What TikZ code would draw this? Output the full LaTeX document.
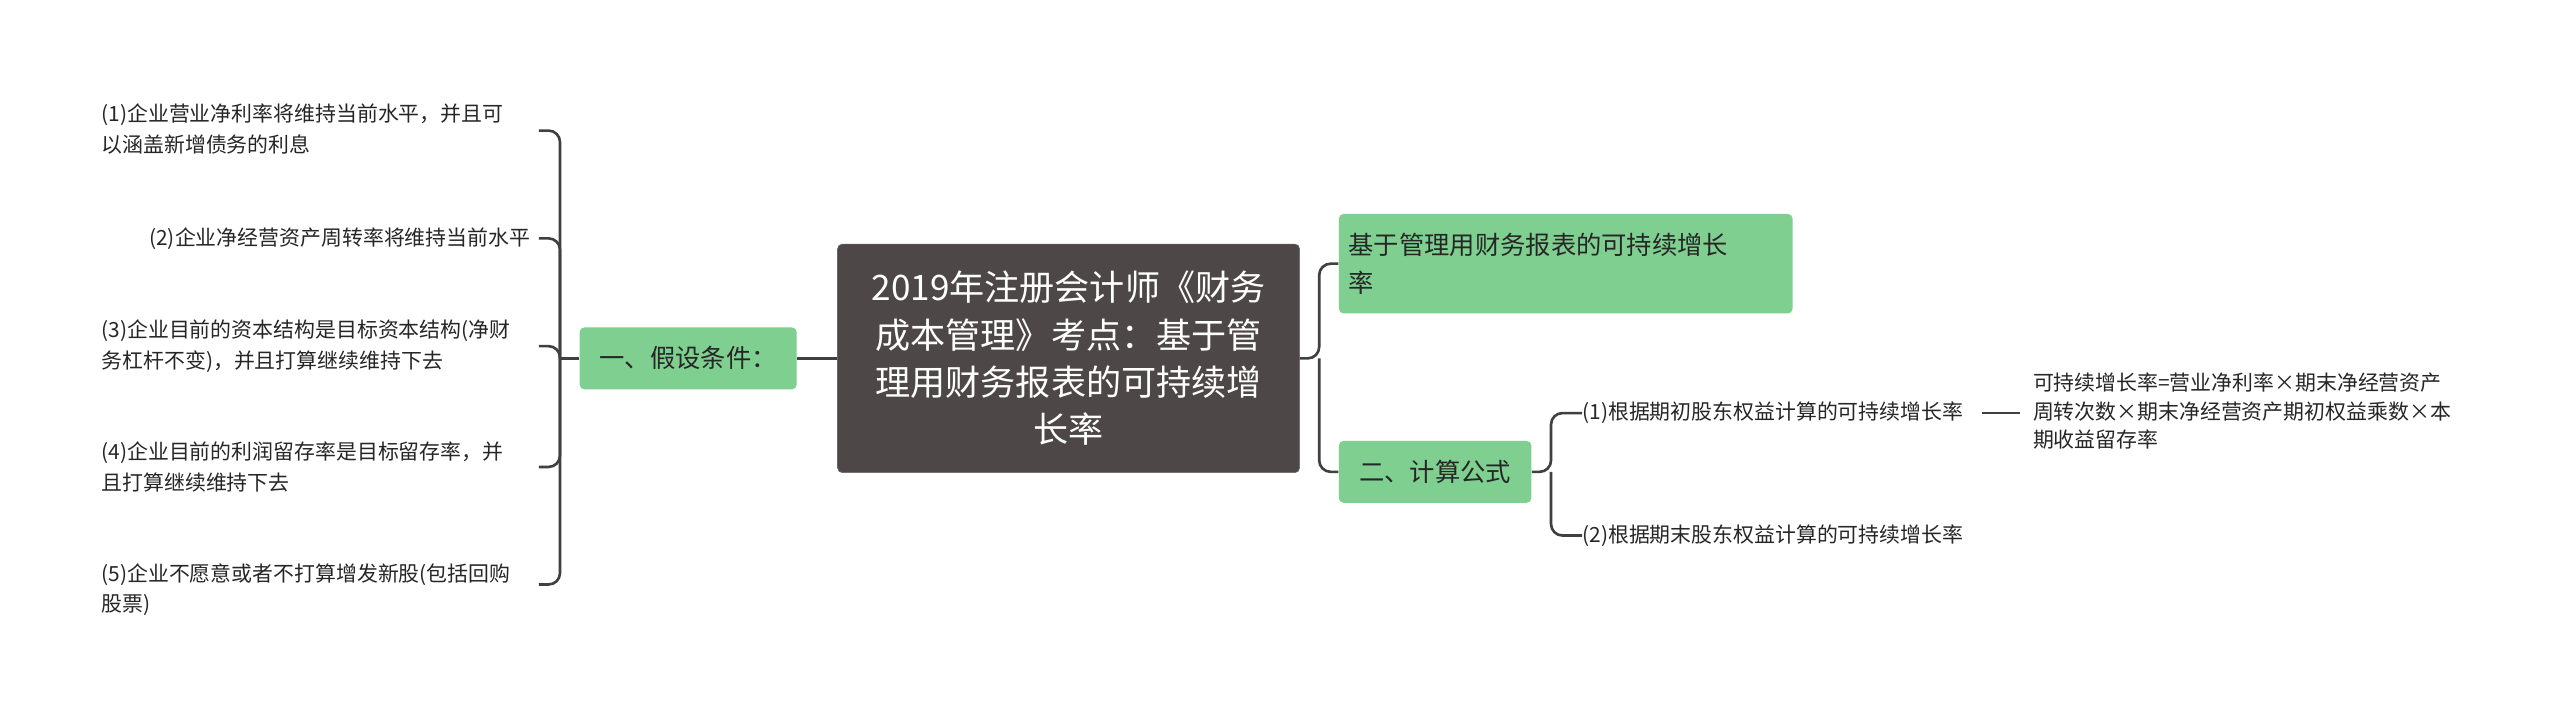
\documentclass[tikz,border=0pt]{standalone}
\usepackage{fontspec}
\setmainfont{Noto Sans CJK SC}
\begin{document}
\begin{tikzpicture}[x=1pt,y=-1pt,
  conn/.style={draw=black!75,line width=1.6pt,rounded corners=7pt},
  leaf/.style={font=\fontsize{12.8}{18.5}\selectfont,text=black!85,align=left,inner sep=0pt}]
\definecolor{gn}{HTML}{7FCF90}
\definecolor{dk}{HTML}{4E4747}
\path[fill=white] (0,0) rectangle (1568,440);
\useasboundingbox (0,0) rectangle (1568,440);
% center
\node[fill=dk,draw=black!60,rounded corners=3pt,text=white,font=\fontsize{21.5}{29}\selectfont,align=center,minimum width=283pt,minimum height=140pt,inner sep=0pt] (c) at (654.5,219.5) {2019年注册会计师《财务\\成本管理》考点：基于管\\理用财务报表的可持续增\\长率};
% left main
\node[fill=gn,rounded corners=3pt,font=\fontsize{15.5}{20}\selectfont,text=black!85,minimum width=133pt,minimum height=38pt,inner sep=0pt] (l) at (421.5,219.5) {一、假设条件：};
% right mains
\node[fill=gn,rounded corners=3pt,font=\fontsize{15.5}{23}\selectfont,text=black!85,align=left,minimum width=278pt,minimum height=61pt,inner sep=0pt,text width=266pt] (r1) at (959,161.5) {基于管理用财务报表的可持续增长\\率};
\node[fill=gn,rounded corners=3pt,font=\fontsize{15.5}{20}\selectfont,text=black!85,minimum width=118pt,minimum height=38pt,inner sep=0pt] (r2) at (879,289) {二、计算公式};
% left leaves
\node[leaf,anchor=west] (a1) at (62,79) {(1)企业营业净利率将维持当前水平，并且可\\以涵盖新增债务的利息};
\node[leaf,anchor=east] (a2) at (325,146) {(2)企业净经营资产周转率将维持当前水平};
\node[leaf,anchor=west] (a3) at (62,212) {(3)企业目前的资本结构是目标资本结构(净财\\务杠杆不变)，并且打算继续维持下去};
\node[leaf,anchor=west] (a4) at (62,286) {(4)企业目前的利润留存率是目标留存率，并\\且打算继续维持下去};
\node[leaf,anchor=west] (a5) at (62,361) {(5)企业不愿意或者不打算增发新股(包括回购\\股票)};
\coordinate (e1) at (330,80);
\coordinate (e2) at (330,146);
\coordinate (e3) at (330,212);
\coordinate (e4) at (330,286);
\coordinate (e5) at (330,358);
\coordinate (ls) at (343,219.5);
\draw[conn] (c.west) -- (l.east);
\draw[conn] (l.west) -- (ls);
\draw[conn] (e1) -- (343,80) -- (343,358) -- (e5);
\draw[conn] (ls) -- (343,146) -- (e2);
\draw[conn] (ls) -- (343,212) -- (e3);
\draw[conn] (ls) -- (343,286) -- (e4);
% right
\draw[conn] (c.east) -- (808,219.5) -- (808,161.5) -- (r1.west);
\draw[conn] (808,219.5) -- (808,289) -- (r2.west);
\node[leaf,anchor=west] (b1) at (969,253) {(1)根据期初股东权益计算的可持续增长率};
\node[leaf,anchor=west] (b2) at (969,328) {(2)根据期末股东权益计算的可持续增长率};
\draw[conn] (r2.east) -- (950,289) -- (950,253) -- (b1.west);
\draw[conn] (950,289) -- (950,328) -- (b2.west);
\node[leaf,anchor=west,font=\fontsize{12.8}{17.5}\selectfont] (f) at (1245,252) {可持续增长率=营业净利率×期末净经营资产\\周转次数×期末净经营资产期初权益乘数×本\\期收益留存率};
\coordinate (bx) at (1214,253);
\draw[conn] (bx) -- (1237,253);
\end{tikzpicture}
\end{document}
